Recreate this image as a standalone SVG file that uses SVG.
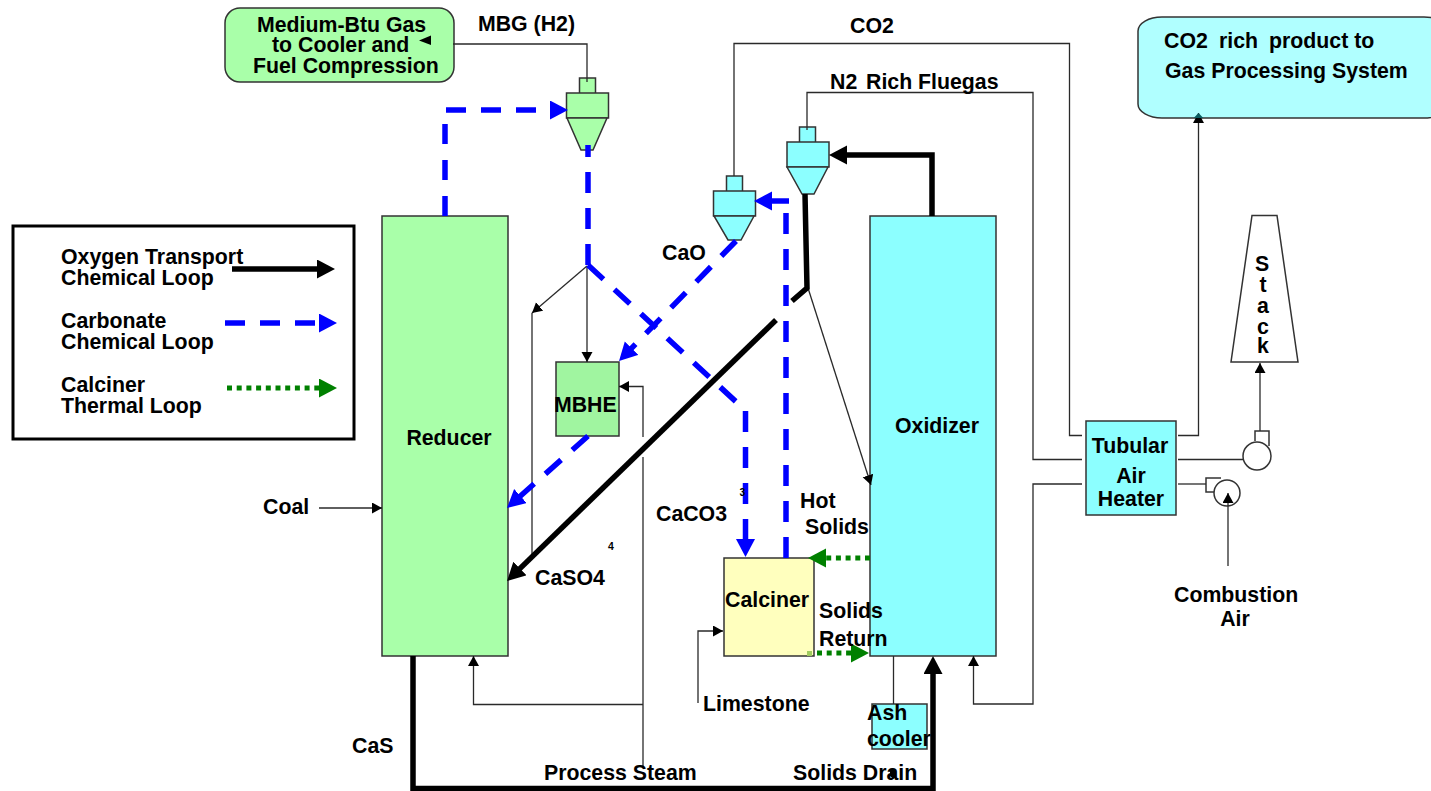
<svg xmlns="http://www.w3.org/2000/svg" width="1431" height="791" viewBox="0 0 1431 791">
<style>
text{font-family:"Liberation Sans",Arial,sans-serif;font-weight:bold;font-size:21.3px;fill:#000}
.m{text-anchor:middle}
.s{font-size:10.5px}
.n{stroke:#333;stroke-width:1.5}
.g{fill:#a9ffa9}.h{fill:#a0f5a0}.c{fill:#8cffff}.l{fill:#b0ffff}.y{fill:#ffffbe}
.t{fill:none;stroke:#2a2a2a;stroke-width:1.3}
.k{fill:none;stroke:#000;stroke-width:5.5}
.b{fill:none;stroke:#00f;stroke-width:5.5;stroke-dasharray:21 15}
.d{fill:none;stroke:#008000;stroke-width:5;stroke-dasharray:5 4.7}
</style>
<defs>
<marker id="ta" markerUnits="userSpaceOnUse" markerWidth="11" markerHeight="12" refX="10" refY="5.5" orient="auto"><path d="M0 0L10 5.5L0 11z" fill="#000"/></marker>
<marker id="ka" markerUnits="userSpaceOnUse" markerWidth="19" markerHeight="20" refX="3" refY="9.5" orient="auto"><path d="M0 0L18 9.5L0 19z" fill="#000"/></marker>
<marker id="ba" markerUnits="userSpaceOnUse" markerWidth="19" markerHeight="20" refX="3" refY="9.5" orient="auto"><path d="M0 0L18 9.5L0 19z" fill="#00f"/></marker>
<marker id="ga" markerUnits="userSpaceOnUse" markerWidth="19" markerHeight="20" refX="3" refY="9.5" orient="auto"><path d="M0 0L18 9.5L0 19z" fill="#008000"/></marker>
</defs>
<g id="legend"><rect x="13" y="226" width="341" height="213" fill="#fff" stroke="#000" stroke-width="3"/>
<text x="61" y="264">Oxygen Transport</text><text x="61" y="285">Chemical Loop</text>
<text x="61" y="328">Carbonate</text><text x="61" y="349">Chemical Loop</text>
<text x="61" y="392">Calciner</text><text x="61" y="413">Thermal Loop</text></g>
<g id="mbg"><rect x="225" y="8" width="229" height="74" rx="15" class="g n"/><text x="257" y="32">Medium-Btu Gas</text><text x="272" y="52">to Cooler and</text><text x="253" y="73">Fuel Compression</text></g>
<g id="co2product"><rect x="1138" y="17" width="310" height="101" rx="24" ry="14" class="l n"/><text x="1164" y="48">CO2</text><text x="1219" y="48">rich</text><text x="1269" y="48">product to</text><text x="1165" y="78">Gas Processing</text><text x="1332" y="78">System</text></g>
<g id="reducer"><rect x="382" y="216" width="126" height="440" class="g n"/><text x="449" y="445" class="m">Reducer</text></g>
<g id="oxidizer"><rect x="870" y="216" width="126" height="440" class="c n"/><text x="937" y="433" class="m">Oxidizer</text></g>
<g id="mbhe"><rect x="556" y="362" width="63" height="74" class="h n"/><text x="554" y="412">MBHE</text></g>
<g id="calciner"><rect x="724" y="558" width="90" height="98" class="y n"/><text x="725" y="607">Calciner</text></g>
<g id="ashcooler"><rect x="872" y="704" width="55" height="45" class="c n"/><text x="867" y="720">Ash</text><text x="867" y="746">cooler</text></g>
<g id="heater"><rect x="1086" y="421" width="90" height="94" class="c n"/><text x="1130" y="453" class="m">Tubular</text><text x="1131" y="483" class="m">Air</text><text x="1131" y="506" class="m">Heater</text></g>
<g id="cyclone1"><rect x="579.500" y="78" width="16" height="16" class="g n"/><rect x="566.500" y="93" width="42" height="25" class="g n"/><path d="M567 118H607L593 150H581z" class="g n"/></g>
<g id="cyclone2"><rect x="726.500" y="176" width="16" height="16" class="c n"/><rect x="713.500" y="191" width="42" height="25" class="c n"/><path d="M714 216H754L741 240H728z" class="c n"/></g>
<g id="cyclone3"><rect x="799.500" y="127" width="16" height="16" class="c n"/><rect x="787" y="142" width="42" height="25" class="c n"/><path d="M787 167H828L814 194H802z" class="c n"/></g>
<g id="stack"><path d="M1252 215.500H1277L1298 362H1231z" fill="#fff" class="n"/><text x="1262" y="271" class="m">S</text><text x="1263" y="292" class="m">t</text><text x="1263" y="313" class="m">a</text><text x="1263" y="334" class="m">c</text><text x="1263" y="353" class="m">k</text></g>
<g id="fan1"><circle cx="1257" cy="456" r="14" fill="#fff" class="n"/><path d="M1255 441V431H1269V446" fill="none" class="n"/></g>
<g id="fan2"><circle cx="1227" cy="493" r="13" fill="#fff" class="n"/><path d="M1221 478H1206V492H1214" fill="none" class="n"/></g>
<g id="connectors">
<path class="t" d="M587 82V44H453"/><path d="M431 35.500L419 40.500L431 45z"/>
<path class="t" d="M734 176V43.500H1069.500V435.500H1082"/>
<path class="t" d="M807 130V92.500H1033V459.500H1082"/>
<path class="t" d="M1178 435.500H1198.500V113" marker-end="url(#ta)"/><path d="M1198.500 113L1193.700 118H1203.300z" fill="#0b5c60"/>
<path class="t" d="M1178 459.500H1243"/><path class="t" d="M1260 431V363" marker-end="url(#ta)"/>
<path class="t" d="M1178 484H1206"/>
<path class="t" d="M1228 566V493" marker-end="url(#ta)"/>
<path class="t" d="M1082 484H1033V704H973.500V656" marker-end="url(#ta)"/>
<path class="t" d="M587 266V362" marker-end="url(#ta)"/>
<path class="t" d="M587 266L532 313" marker-end="url(#ta)"/><path class="t" d="M532 313V556"/>
<path class="t" d="M643 437V386.500H619" marker-end="url(#ta)"/>
<path class="t" d="M643 457V767"/>
<path class="t" d="M643 704.500H473.500V656" marker-end="url(#ta)"/>
<path class="t" d="M319 508H382" marker-end="url(#ta)"/>
<path class="t" d="M698 703V631H723" marker-end="url(#ta)"/>
<path class="t" d="M808 288L871 485" marker-end="url(#ta)"/>
<path class="t" d="M893.500 656V704"/><path d="M890 770H896V776L893 779L890 776z"/>
<path class="k" d="M932 216V155H844" marker-end="url(#ka)"/>
<path class="k" d="M805 194L807 288L792 301"/>
<path class="k" d="M776 320L517.800 570.600" marker-end="url(#ka)"/>
<path class="k" d="M413 656V788.500H933V671" marker-end="url(#ka)"/>
<path class="b" d="M445 216V124" style="stroke-dasharray:20 16"/>
<path class="b" d="M446 110H553" style="stroke-dasharray:20 15" marker-end="url(#ba)"/>
<path class="b" d="M588 265V145"/>
<path class="b" d="M588 265L745 410"/>
<path class="b" d="M745.500 411V542" marker-end="url(#ba)"/>
<path class="b" d="M786 558V213"/>
<path class="b" d="M789 201H769" marker-end="url(#ba)"/>
<path class="b" d="M736 241L629.500 350.300" marker-end="url(#ba)"/>
<path class="b" d="M588 436L518.200 498" marker-end="url(#ba)"/>
<path class="d" d="M870 558H823" marker-end="url(#ga)"/>
<path class="d" d="M817 653H854" marker-end="url(#ga)"/>
<rect x="807" y="651" width="5" height="5" fill="#a0cc60"/>
<path class="k" d="M232 269H320" marker-end="url(#ka)"/>
<path class="b" d="M225 323H322" style="stroke-dasharray:20 15" marker-end="url(#ba)"/>
<path class="d" d="M227 388H322" marker-end="url(#ga)"/>
</g>
<g id="labels">
<text x="478" y="31">MBG (H2)</text><text x="850" y="33">CO2</text><text x="830" y="89">N2</text><text x="866" y="89">Rich Fluegas</text>
<text x="662" y="260">CaO</text><text x="263" y="514">Coal</text><text x="656" y="521">CaCO3</text><text x="535" y="585">CaSO4</text>
<text x="800" y="508">Hot</text><text x="805" y="534">Solids</text><text x="819" y="618">Solids</text><text x="819" y="646">Return</text>
<text x="703" y="711">Limestone</text><text x="352" y="753">CaS</text><text x="544" y="780">Process Steam</text><text x="793" y="780">Solids Drain</text>
<text x="1174" y="602">Combustion</text><text x="1235" y="626" class="m">Air</text>
<text x="739.500" y="496" class="s">3</text><text x="608" y="550" class="s">4</text>
</g>
</svg>
